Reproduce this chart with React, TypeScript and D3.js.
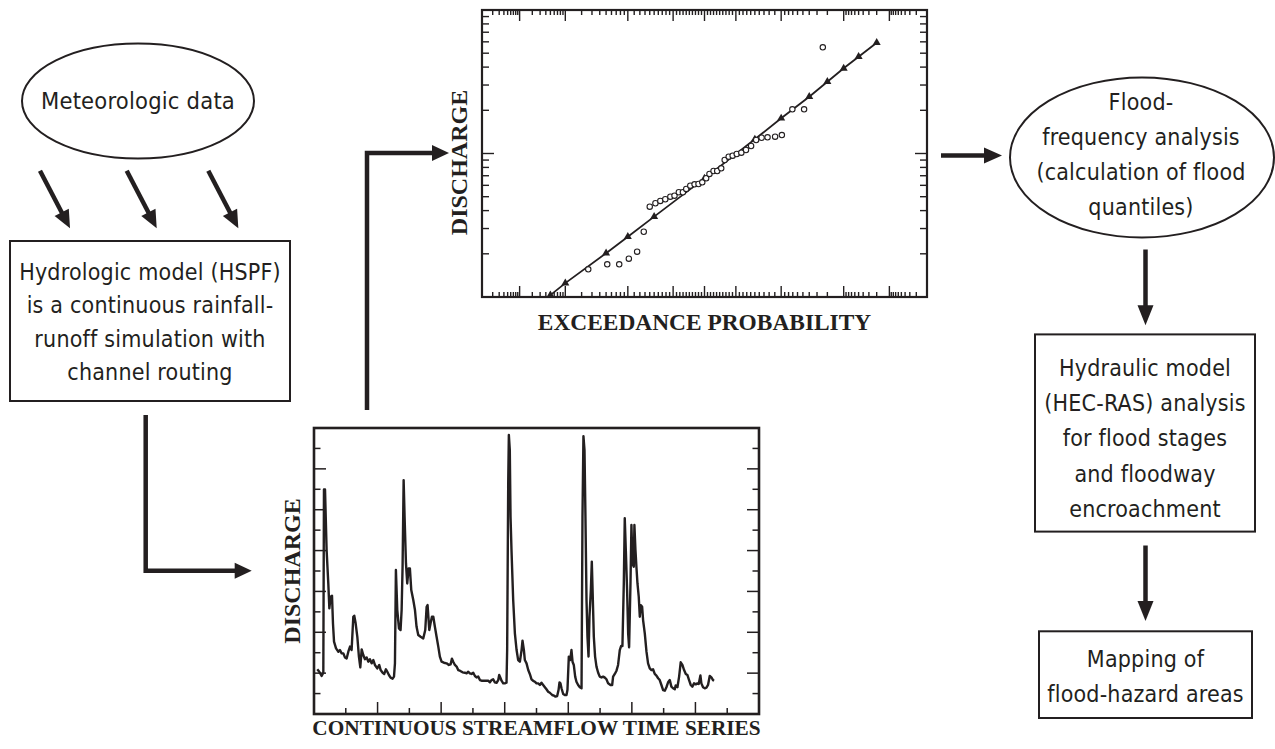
import React from 'react';
import * as d3 from 'd3';

// ---------- flood-frequency curve (exceedance probability vs discharge) ----------
const fitProb = [0.995, 0.99, 0.95, 0.9, 0.8, 0.5, 0.2, 0.1, 0.04, 0.02, 0.01, 0.005, 0.002];
const fitQ = [103, 125, 202, 263, 363, 671, 1256, 1760, 2488, 3164, 3923, 4728, 5918];

// annual peaks (observed), plotted as open circles
const obsProb = [0.974, 0.948, 0.923, 0.897, 0.870, 0.845, 0.820, 0.794, 0.770, 0.744, 0.716, 0.692, 0.666,
  0.641, 0.620, 0.594, 0.566, 0.540, 0.515, 0.489, 0.467, 0.440, 0.416, 0.390, 0.368, 0.343, 0.319, 0.295,
  0.269, 0.244, 0.218, 0.194, 0.170, 0.146, 0.119, 0.098, 0.071, 0.048, 0.024];
const obsQ = [156, 169, 169, 185, 207, 285, 426, 450, 467, 480, 500, 508, 537,
  537, 566, 597, 610, 613, 630, 672, 720, 755, 755, 788, 901, 950, 966, 992,
  1013, 1058, 1128, 1242, 1288, 1297, 1309, 1345, 2032, 2032, 5497];

const probMajor = [0.999, 0.99, 0.9, 0.7, 0.5, 0.3, 0.1, 0.01, 0.001];
// minor ticks for the low-probability half, mirrored for the upper half
const probMinorLow = [0.0009, 0.0008, 0.0007, 0.0006, 0.0005, 0.0004, 0.0003, 0.0002,
  0.009, 0.008, 0.007, 0.006, 0.005, 0.004, 0.003, 0.002,
  0.09, 0.08, 0.07, 0.06, 0.05, 0.04, 0.03, 0.02,
  0.12, 0.14, 0.16, 0.18, 0.2, 0.22, 0.24, 0.26, 0.28,
  0.32, 0.34, 0.36, 0.38, 0.4, 0.42, 0.44, 0.46, 0.48];
const qMajor = [1000];
const qMinor = [200, 300, 400, 500, 600, 700, 800, 900, 2000, 3000, 4000, 5000, 6000, 7000, 8000, 9000];

// ---------- continuous streamflow time series (day, discharge in 1000 ft3/s) ----------
const seriesDay = [3.1, 5.0, 7.2, 8.8, 9.4, 10.4, 11.9, 13.5, 14.5, 15.7, 17.0, 17.9, 18.9, 20.8, 23.0, 24.5,
  26.1, 27.7, 29.2, 30.8, 32.4, 34.0, 35.5, 37.1, 38.0, 39.3, 40.9, 42.4, 43.7, 45.0, 46.5, 48.1, 49.7, 51.2,
  52.8, 54.4, 56.0, 57.5, 59.7, 61.6, 62.9, 64.8, 66.3, 67.9, 69.2, 70.7, 72.3, 74.2, 75.5, 76.4, 77.3, 78.6,
  80.2, 81.7, 82.7, 83.6, 84.6, 85.5, 86.8, 88.0, 89.3, 90.5, 91.8, 93.7, 95.3, 96.8, 98.4, 100.6, 103.1,
  105.0, 106.3, 107.2, 108.8, 110.0, 111.3, 112.6, 114.1, 115.7, 117.3, 118.8, 120.4, 122.6, 125.1, 127.3,
  128.9, 130.2, 131.4, 133.0, 134.6, 136.1, 137.7, 140.2, 142.4, 144.0, 145.6, 147.1, 148.7, 150.3, 151.9,
  153.4, 155.0, 156.6, 158.1, 161.3, 164.4, 166.0, 167.6, 169.1, 170.7, 172.3, 173.9, 174.8, 176.1, 177.0,
  178.6, 180.1, 181.7, 182.3, 183.3, 183.9, 184.8, 185.5, 186.4, 188.0, 189.6, 191.2, 192.7, 194.3, 195.9,
  196.8, 198.1, 199.0, 200.6, 202.2, 203.7, 205.3, 206.9, 208.4, 210.0, 211.6, 213.2, 214.7, 216.3, 217.9,
  219.4, 221.0, 222.6, 224.8, 226.4, 227.9, 229.5, 230.8, 231.7, 232.6, 233.6, 235.2, 236.7, 238.3, 239.2,
  240.5, 241.8, 243.0, 244.0, 245.2, 246.5, 247.7, 249.3, 250.9, 252.5, 253.4, 254.3, 255.3, 256.2, 257.2,
  258.1, 259.1, 260.0, 261.3, 262.2, 263.1, 264.1, 265.3, 266.6, 268.2, 269.7, 271.3, 272.9, 274.5, 276.0,
  277.6, 279.8, 281.4, 282.3, 283.9, 285.5, 287.0, 288.6, 289.9, 291.1, 292.4, 293.3, 294.3, 295.5, 296.5,
  297.4, 298.7, 299.6, 300.6, 301.8, 302.4, 303.4, 304.3, 305.3, 306.5, 307.5, 308.4, 309.7, 310.6, 312.2,
  313.8, 315.3, 316.9, 318.5, 320.0, 321.6, 323.2, 324.8, 326.3, 327.9, 329.5, 331.1, 332.6, 334.2, 335.8,
  337.3, 338.9, 340.5, 341.4, 343.0, 344.6, 346.1, 347.7, 349.3, 350.9, 352.4, 354.0, 355.6, 357.1, 358.7,
  360.3, 361.9, 363.1, 364.7, 365.6, 367.2, 368.8, 370.4, 371.9, 373.5, 375.1, 376.6, 377.6];
const seriesFlow = [2.19, 2.07, 1.86, 2.02, 10.99, 10.99, 8.03, 6.39, 5.17, 5.74, 5.79, 4.44, 3.54, 3.21, 3.05, 3.13,
  2.97, 2.97, 2.77, 2.72, 3.05, 3.30, 3.13, 4.76, 4.81, 4.44, 3.78, 2.81, 2.28, 3.16, 2.89, 2.68, 2.77, 2.56,
  2.68, 2.48, 2.64, 2.40, 2.23, 2.40, 2.15, 2.02, 1.96, 2.19, 2.07, 1.91, 1.78, 1.73, 1.83, 2.48, 7.05, 5.09,
  4.19, 4.11, 5.09, 7.21, 11.45, 9.66, 7.37, 6.39, 7.13, 7.13, 6.07, 5.58, 5.09, 4.27, 3.87, 3.78, 3.70,
  4.11, 5.25, 5.33, 4.11, 4.44, 4.76, 4.76, 4.27, 3.78, 3.30, 2.81, 2.56, 2.51, 2.48, 2.40,
  2.43, 2.71, 2.56, 2.40, 2.32, 2.15, 2.12, 2.04, 2.02, 1.99, 2.07, 1.99, 1.96, 2.02, 1.86,
  1.79, 1.83, 1.66, 1.63, 1.63, 1.63, 1.55, 1.66, 1.70, 1.55, 1.53, 1.66, 1.91, 1.75, 1.63,
  1.50, 1.50, 1.53, 3.13, 11.29, 13.66, 12.92, 9.66, 8.03, 5.58, 3.95, 3.13, 2.64, 2.56, 3.13,
  3.59, 3.13, 2.64, 2.48, 2.15, 1.96, 1.70, 1.62, 1.58, 1.50, 1.50, 1.42, 1.53, 1.42, 1.31,
  1.21, 1.09, 1.04, 0.93, 0.90, 0.85, 0.88, 1.17, 1.55, 1.50, 1.26, 0.98, 0.93, 0.93, 1.17,
  2.81, 2.64, 3.13, 2.56, 2.40, 1.83, 1.58, 1.42, 1.31, 1.26, 9.66, 13.6, 12.92, 9.66, 5.58,
  3.78, 2.81, 4.76, 6.07, 7.46, 5.74, 3.78, 2.81, 2.32, 2.02, 1.83, 1.79, 1.83, 1.78, 1.70,
  1.50, 1.42, 1.42, 1.83, 1.96, 2.12, 2.40, 3.13, 3.33, 3.33, 6.39, 9.58, 8.03, 6.07, 3.95,
  3.26, 6.39, 9.25, 7.37, 7.21, 9.25, 8.03, 7.21, 6.39, 5.74, 4.76, 5.33, 5.25, 4.60, 3.95,
  3.05, 2.48, 2.23, 2.15, 2.19, 1.96, 1.88, 1.75, 1.66, 1.42, 1.17, 1.14, 1.31, 1.55, 1.66,
  1.34, 1.26, 1.21, 1.40, 1.31, 1.83, 2.53, 2.40, 2.15, 1.96, 1.91, 1.66, 1.42, 1.34, 1.50,
  1.45, 1.50, 1.47, 1.89, 1.50, 1.31, 1.26, 1.29, 1.42, 1.86, 1.79, 1.66, 1.63];
const dayTicks = [30, 60, 90, 120, 150, 180, 210, 240, 270, 300, 330, 360, 390];
const flowTicks = [1, 2, 3, 4, 5, 6, 7, 8, 9, 10, 11, 12, 13];

// ---------- flow-chart text ----------
const metLines = ['Meteorologic data'];
const hspfLines = ['Hydrologic model (HSPF)', 'is a continuous rainfall-', 'runoff simulation with', 'channel routing'];
const ffaLines = ['Flood-', 'frequency analysis', '(calculation of flood', 'quantiles)'];
const hecLines = ['Hydraulic model', '(HEC-RAS) analysis', 'for flood stages', 'and floodway', 'encroachment'];
const mapLines = ['Mapping of', 'flood-hazard areas'];

const SANS = "'DejaVu Sans Condensed', 'Liberation Sans Narrow', 'Arial Narrow', sans-serif";
const SERIF = "'Liberation Serif', 'Times New Roman', serif";
const INK = '#231f20';

// inverse standard normal (Acklam)
function probit(p) {
  const a = [-39.69683028665376, 220.9460984245205, -275.9285104469687, 138.357751867269, -30.66479806614716, 2.506628277459239];
  const b = [-54.47609879822406, 161.5858368580409, -155.6989798598866, 66.80131188771972, -13.28068155288572];
  const c = [-0.007784894002430293, -0.3223964580411365, -2.400758277161838, -2.549732539343734, 4.374664141464968, 2.938163982698783];
  const d = [0.007784695709041462, 0.3224671290700398, 2.445134137142996, 3.754408661907416];
  const pl = 0.02425;
  if (p < pl) {
    const q = Math.sqrt(-2 * Math.log(p));
    return (((((c[0] * q + c[1]) * q + c[2]) * q + c[3]) * q + c[4]) * q + c[5]) / ((((d[0] * q + d[1]) * q + d[2]) * q + d[3]) * q + 1);
  }
  if (p > 1 - pl) {
    const q = Math.sqrt(-2 * Math.log(1 - p));
    return -(((((c[0] * q + c[1]) * q + c[2]) * q + c[3]) * q + c[4]) * q + c[5]) / ((((d[0] * q + d[1]) * q + d[2]) * q + d[3]) * q + 1);
  }
  const q = p - 0.5;
  const r = q * q;
  return (((((a[0] * r + a[1]) * r + a[2]) * r + a[3]) * r + a[4]) * r + a[5]) * q /
    (((((b[0] * r + b[1]) * r + b[2]) * r + b[3]) * r + b[4]) * r + 1);
}

// arrow: polyline shaft + filled head at the last point
const Arrow = ({ pts, len = 18, half = 8, w = 4.5 }) => {
  const [x1, y1] = pts[pts.length - 2];
  const [x2, y2] = pts[pts.length - 1];
  const ang = Math.atan2(y2 - y1, x2 - x1);
  const bx = x2 - len * Math.cos(ang);
  const by = y2 - len * Math.sin(ang);
  const nx = -Math.sin(ang) * half;
  const ny = Math.cos(ang) * half;
  const shaft = [...pts.slice(0, -1), [bx + Math.cos(ang), by + Math.sin(ang)]];
  return (
    <g>
      <path d={d3.line()(shaft)} fill="none" stroke={INK} strokeWidth={w} strokeLinejoin="miter" />
      <polygon points={`${x2},${y2} ${bx + nx},${by + ny} ${bx - nx},${by - ny}`} fill={INK} />
    </g>
  );
};

const Lines = ({ lines, cx, y0, dy, size = 23 }) => (
  <text fontFamily={SANS} fontSize={size} fill={INK} textAnchor="middle" letterSpacing={0.2}>
    {lines.map((l, i) => (
      <tspan key={i} x={cx} y={y0 + i * dy}>{l}</tspan>
    ))}
  </text>
);

const FreqPlot = () => {
  const L = 482, R = 927, T = 10, B = 297;
  const z = d3.scaleLinear().domain([probit(0.0001), probit(0.9999)]).range([L, R]);
  const xp = (p) => z(probit(1 - p));
  const y = d3.scaleLog().domain([100, 10000]).range([B, T]);
  const minor = [...probMinorLow, ...probMinorLow.map((p) => 1 - p)];
  const fitLine = d3.line().x((d) => xp(d[0])).y((d) => y(d[1]))(fitProb.map((p, i) => [p, fitQ[i]]));
  const tri = d3.symbol(d3.symbolTriangle, 28)();
  return (
    <g>
      <defs>
        <clipPath id="freqClip"><rect x={L} y={T} width={R - L} height={B - T} /></clipPath>
      </defs>
      <g stroke={INK} strokeWidth={1.4}>
        {probMajor.map((p) => (
          <g key={'M' + p}>
            <line x1={xp(p)} x2={xp(p)} y1={T} y2={T + 11} />
            <line x1={xp(p)} x2={xp(p)} y1={B} y2={B - 11} />
          </g>
        ))}
        {minor.map((p) => (
          <g key={'m' + p}>
            <line x1={xp(p)} x2={xp(p)} y1={T} y2={T + 5} />
            <line x1={xp(p)} x2={xp(p)} y1={B} y2={B - 5} />
          </g>
        ))}
        {qMajor.map((q) => (
          <g key={'Q' + q}>
            <line x1={L} x2={L + 12} y1={y(q)} y2={y(q)} />
            <line x1={R} x2={R - 12} y1={y(q)} y2={y(q)} />
          </g>
        ))}
        {qMinor.map((q) => (
          <g key={'q' + q}>
            <line x1={L} x2={L + 7} y1={y(q)} y2={y(q)} />
            <line x1={R} x2={R - 7} y1={y(q)} y2={y(q)} />
          </g>
        ))}
      </g>
      <g clipPath="url(#freqClip)">
        <path d={fitLine} fill="none" stroke={INK} strokeWidth={1.8} />
        {fitProb.map((p, i) => (
          <path key={'t' + p} d={tri} transform={`translate(${xp(p)},${y(fitQ[i])})`} fill={INK} />
        ))}
        {obsProb.map((p, i) => (
          <circle key={'o' + i} cx={xp(p)} cy={y(obsQ[i])} r={2.7} fill="white" stroke={INK} strokeWidth={1.1} />
        ))}
      </g>
      <rect x={L} y={T} width={R - L} height={B - T} fill="none" stroke={INK} strokeWidth={2.2} />
      <text transform={`translate(467,162.5) rotate(-90)`} textAnchor="middle" fontFamily={SERIF}
        fontWeight="bold" fontSize={24} fill={INK}>DISCHARGE</text>
      <text x={(L + R) / 2} y={330} textAnchor="middle" fontFamily={SERIF} fontWeight="bold"
        fontSize={23.4} fill={INK}>EXCEEDANCE PROBABILITY</text>
    </g>
  );
};

const SeriesPlot = () => {
  const L = 314, R = 759, T = 428, B = 714;
  const x = d3.scaleLinear().domain([0, 420]).range([L, R]);
  const y = d3.scaleLinear().domain([0, 14]).range([B, T]);
  const path = d3.line().x((d) => x(d[0])).y((d) => y(d[1]))(seriesDay.map((t, i) => [t, seriesFlow[i]]));
  return (
    <g>
      <defs>
        <clipPath id="tsClip"><rect x={L} y={T} width={R - L} height={B - T} /></clipPath>
      </defs>
      <g stroke={INK} strokeWidth={1.5}>
        {dayTicks.map((t, i) => (
          <line key={'d' + t} x1={x(t)} x2={x(t)} y1={B} y2={B - (i % 2 === 1 ? 12 : 6)} />
        ))}
        {flowTicks.map((v, i) => (
          <g key={'f' + v}>
            <line x1={L} x2={L + (i % 2 === 1 ? 12 : 6.5)} y1={y(v)} y2={y(v)} />
            <line x1={R} x2={R - (i % 2 === 1 ? 12 : 6.5)} y1={y(v)} y2={y(v)} />
          </g>
        ))}
      </g>
      <path d={path} clipPath="url(#tsClip)" fill="none" stroke={INK} strokeWidth={2.4} strokeLinejoin="round" />
      <rect x={L} y={T} width={R - L} height={B - T} fill="none" stroke={INK} strokeWidth={2.6} />
      <text transform={`translate(300,${(T + B) / 2}) rotate(-90)`} textAnchor="middle" fontFamily={SERIF}
        fontWeight="bold" fontSize={24} fill={INK}>DISCHARGE</text>
      <text x={(L + R) / 2} y={735} textAnchor="middle" fontFamily={SERIF} fontWeight="bold"
        fontSize={21.3} fill={INK}>CONTINUOUS STREAMFLOW TIME SERIES</text>
    </g>
  );
};

export default function App() {
  return (
    <svg width={1275} height={749} viewBox="0 0 1275 749"
      style={{ position: 'absolute', left: 0, top: 0, background: 'white' }}>
      {/* meteorologic data */}
      <ellipse cx={138} cy={101} rx={116} ry={57.5} fill="none" stroke={INK} strokeWidth={2} />
      <Lines lines={metLines} cx={138} y0={109} dy={0} size={23.5} />
      <Arrow pts={[[40, 170.7], [70, 228.3]]} />
      <Arrow pts={[[126.7, 170.7], [156.7, 228.3]]} />
      <Arrow pts={[[208.3, 170.7], [238.3, 228.3]]} />

      {/* HSPF box */}
      <rect x={10} y={241} width={280} height={160} fill="none" stroke={INK} strokeWidth={2} />
      <Lines lines={hspfLines} cx={150} y0={280} dy={33.3} />
      <Arrow pts={[[145.7, 415], [145.7, 570.7], [251.7, 570.7]]} len={17} />

      <SeriesPlot />
      <Arrow pts={[[367, 410], [367, 153], [449, 153]]} len={17} />
      <FreqPlot />
      <Arrow pts={[[941, 155.4], [1002, 155.4]]} />

      {/* flood-frequency analysis */}
      <ellipse cx={1142} cy={157.5} rx={132} ry={80} fill="none" stroke={INK} strokeWidth={2} />
      <Lines lines={ffaLines} cx={1141} y0={110} dy={35} />
      <Arrow pts={[[1145.5, 249.5], [1145.5, 325.3]]} len={20} />

      {/* HEC-RAS box */}
      <rect x={1035} y={334.4} width={220} height={197.2} fill="none" stroke={INK} strokeWidth={2} />
      <Lines lines={hecLines} cx={1145} y0={375.6} dy={35.4} />
      <Arrow pts={[[1145.5, 545.5], [1145.5, 621]]} len={20} />

      {/* mapping box */}
      <rect x={1039} y={631.3} width={213} height={86.7} fill="none" stroke={INK} strokeWidth={2} />
      <Lines lines={mapLines} cx={1145.5} y0={667} dy={34.7} />
    </svg>
  );
}
